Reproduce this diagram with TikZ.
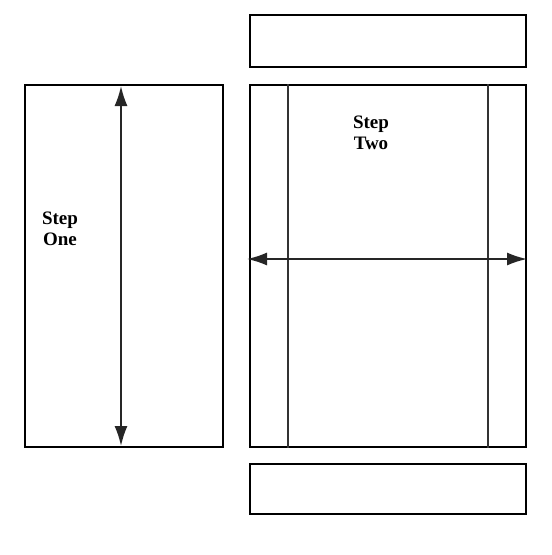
\documentclass[tikz,border=0pt]{standalone}
\usepackage{fontspec}
\setmainfont{Liberation Serif}
\usetikzlibrary{arrows.meta,positioning}

\tikzset{
	panel/.style={draw, rectangle, line width=2pt, inner sep=0pt},
	divider/.style={line width=1.6pt, black!80},
	dimarrow/.style={line width=1.7pt, black!85, {Latex[length=20pt,width=13pt]}-{Latex[length=20pt,width=13pt]}},
	steplabel/.style={align=center, font=\fontsize{19}{21}\selectfont\bfseries}
}

\begin{document}
\begin{tikzpicture}[x=1pt, y=-1pt]
				\useasboundingbox (0,0) rectangle (552,555);
				
				% Step One
				\node[panel, minimum width=198pt, minimum height=362pt] (onebox) at (124,266) {};
				\node[steplabel] (onelabel) at (60,229) {Step\\One};
				\coordinate (onetop) at (121,86);
				\coordinate (onebot) at (121,446);
				\draw[dimarrow] (onetop) -- (onebot);
				
				% Step Two
				\node[panel, minimum width=276pt, minimum height=52pt] (topbar) at (388,41) {};
				\node[panel, minimum width=276pt, minimum height=362pt] (twobox) at (388,266) {};
				\node[panel, minimum width=276pt, minimum height=50pt] (botbar) at (388,489) {};
				\draw[divider] ([xshift=39pt]twobox.north west) -- ([xshift=39pt]twobox.south west);
				\draw[divider] ([xshift=-39pt]twobox.north east) -- ([xshift=-39pt]twobox.south east);
				\node[steplabel] (twolabel) at (371,133) {Step\\Two};
				\coordinate (twoleft) at (247,259);
				\coordinate (tworight) at (527,259);
				\draw[dimarrow] (twoleft) -- (tworight);
			\end{tikzpicture}
\end{document}
